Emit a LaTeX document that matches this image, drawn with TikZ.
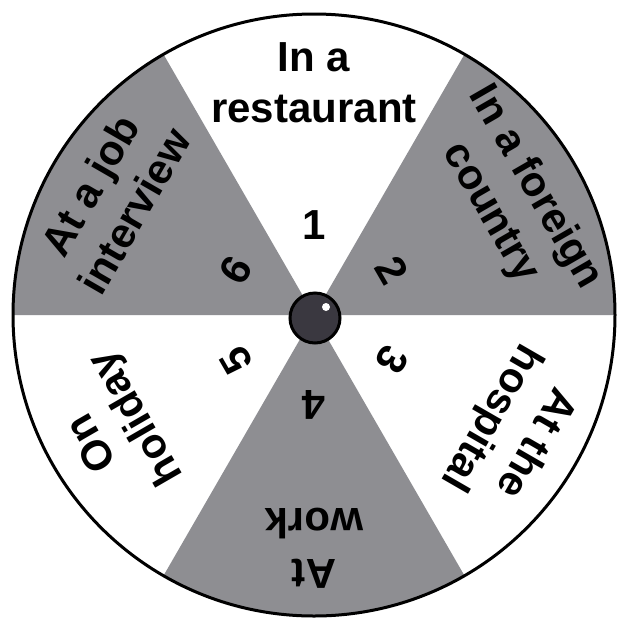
\documentclass[tikz,border=0pt]{standalone}
\usepackage{fontspec}
\setmainfont{Liberation Sans}
\definecolor{sectorgray}{RGB}{142,142,146}
\definecolor{hubfill}{RGB}{58,56,64}
\begin{document}
\begin{tikzpicture}[x=1pt,y=1pt,
  sector/.style={fill=sectorgray},
  lbl/.style={font=\fontsize{42}{50}\selectfont\bfseries, inner sep=0pt, anchor=base},
  num/.style={font=\fontsize{42}{50}\selectfont\bfseries, inner sep=0pt, anchor=center},
  rim/.style={draw=black, line width=3pt}]
\begin{scope}[shift={(314,-315)}]
  \useasboundingbox (-314,-307) rectangle (305,315);
  \fill[white] (-314,-307) rectangle (305,315);
  % gray sectors
  \fill[sector] (0,0) -- (0:301) arc (0:60:301) -- cycle;
  \fill[sector] (0,0) -- (120:301) arc (120:180:301) -- cycle;
  \fill[sector] (0,0) -- (240:301) arc (240:300:301) -- cycle;
  \draw[rim] (0,0) circle (301);
  % labels
  \node[lbl, rotate=0]    (l1a) at (90:244)  {In a};
  \node[lbl, rotate=0]    (l1b) at (90:193)  {restaurant};
  \node[lbl, rotate=-60]  (l2a) at (30:244)  {In a foreign};
  \node[lbl, rotate=-60]  (l2b) at (30:193)  {country};
  \node[lbl, rotate=-120] (l3a) at (-30:244) {At the};
  \node[lbl, rotate=-120] (l3b) at (-30:193) {hospital};
  \node[lbl, rotate=180]  (l4a) at (-90:244) {At};
  \node[lbl, rotate=180]  (l4b) at (-90:193) {work};
  \node[lbl, rotate=120]  (l5a) at (210:244) {On};
  \node[lbl, rotate=120]  (l5b) at (210:193) {holiday};
  \node[lbl, rotate=60]   (l6a) at (150:244) {At a job};
  \node[lbl, rotate=60]   (l6b) at (150:193) {interview};
  % numbers
  \node[num, rotate=0]    (n1) at (90:90)  {1};
  \node[num, rotate=-60]  (n2) at (30:90)  {2};
  \node[num, rotate=-120] (n3) at (-30:90) {3};
  \node[num, rotate=180]  (n4) at (-90:90) {4};
  \node[num, rotate=120]  (n5) at (210:90) {5};
  \node[num, rotate=60]   (n6) at (150:90) {6};
  % hub
  \node[circle, minimum size=50pt, inner sep=0pt, fill=hubfill, draw=black, line width=3pt] (hub) at (1,-3) {};
  \fill[white] (12,8) circle (4);
\end{scope}
\end{tikzpicture}
\end{document}
